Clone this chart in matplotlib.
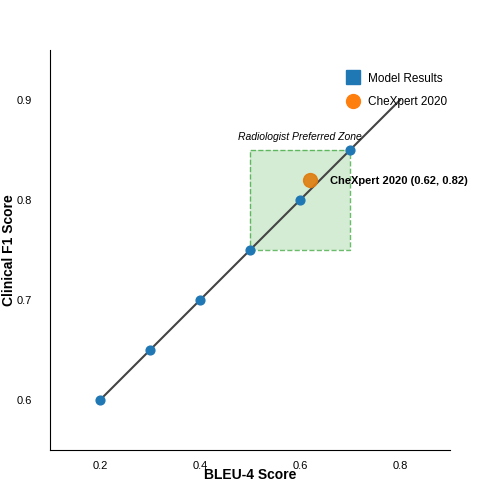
import matplotlib
matplotlib.use("Agg")
import matplotlib.pyplot as plt
from matplotlib.patches import Rectangle
from matplotlib.lines import Line2D

plt.rcParams['font.family'] = ['Liberation Sans', 'DejaVu Sans']

bleu = [0.2, 0.3, 0.4, 0.5, 0.6, 0.7]
f1 = [0.6, 0.65, 0.7, 0.75, 0.8, 0.85]
trend_x = [0.2, 0.8]
trend_y = [0.6, 0.9]
chexpert_x = 0.62
chexpert_y = 0.82

fig = plt.figure(figsize=(5, 5), dpi=100)
ax = fig.add_axes([0.1, 0.1, 0.8, 0.8])

ax.add_patch(Rectangle((0.5, 0.75), 0.2, 0.1, facecolor='#2ca02c', alpha=0.2,
                       edgecolor='none'))
ax.add_patch(Rectangle((0.5, 0.75), 0.2, 0.1, facecolor='none',
                       edgecolor='#2ca02c', alpha=0.7, linestyle='--', linewidth=1))
ax.text(0.6, 0.858, "Radiologist Preferred Zone", ha='center', va='bottom',
        fontsize=7.5, style='italic')

ax.plot(trend_x, trend_y, color='#444444', linewidth=1.5, zorder=2)
ax.scatter(bleu, f1, color='#1f77b4', s=40, zorder=3)
ax.scatter([chexpert_x], [chexpert_y], color='#e07b0c', s=100, alpha=0.9, zorder=4)
ax.text(0.66, 0.819, "CheXpert 2020 (0.62, 0.82)", fontsize=8, fontweight='bold',
        va='center', ha='left')

ax.set_xlim(0.1, 0.9)
ax.set_ylim(0.55, 0.95)
ax.set_xticks([0.2, 0.4, 0.6, 0.8])
ax.set_yticks([0.6, 0.7, 0.8, 0.9])
ax.tick_params(labelsize=8, length=0, pad=13)
ax.tick_params(axis='x', pad=8)
for s in ['top', 'right']:
    ax.spines[s].set_visible(False)
ax.set_xlabel("BLEU-4 Score", fontsize=10, fontweight='bold', labelpad=-2)
ax.set_ylabel("Clinical F1 Score", fontsize=10, fontweight='bold')
ax.yaxis.set_label_coords(-0.085, 0.5)

handles = [Line2D([], [], marker='s', color='#1f77b4', linestyle='none', markersize=10),
           Line2D([], [], marker='o', color='#ff7f0e', linestyle='none', markersize=10)]
ax.legend(handles, ["Model Results", "CheXpert 2020"], loc='upper right',
          frameon=False, fontsize=8.5, handletextpad=0.3, labelspacing=1.0,
          bbox_to_anchor=(1.02, 0.97))

fig.savefig("out.png")
